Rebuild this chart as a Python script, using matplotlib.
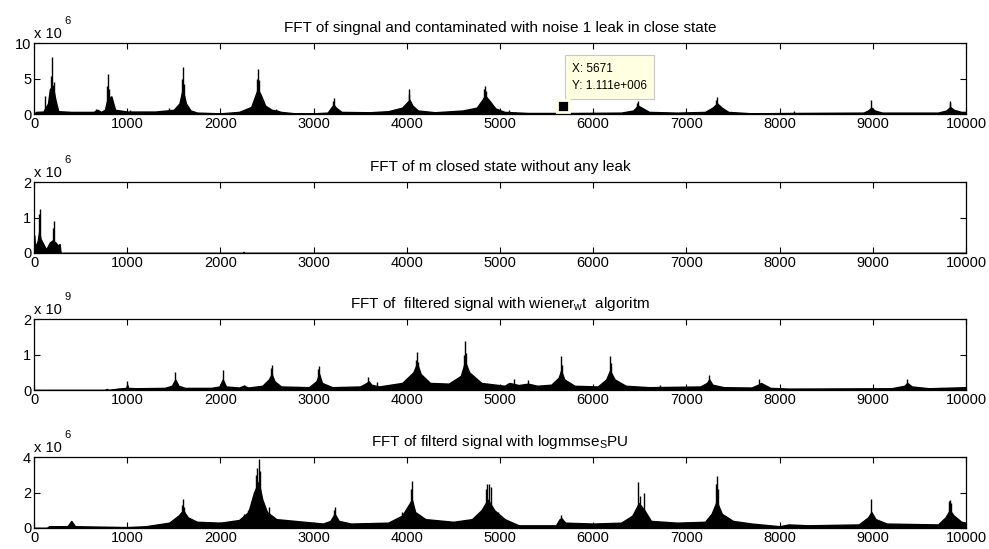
import matplotlib
matplotlib.use("Agg")
import matplotlib.pyplot as plt

plt.rcParams['font.family'] = ['Liberation Sans', 'DejaVu Sans']
plt.rcParams['mathtext.fontset'] = 'custom'
plt.rcParams['mathtext.rm'] = 'Liberation Sans'
plt.rcParams['mathtext.it'] = 'Liberation Sans'

# ---- panel 1 : noisy signal, 1 leak (units 1e6) ----
env1_f = [0, 20, 100, 150, 170, 200, 230, 260, 400, 640, 680, 720, 760, 790, 830, 870, 1000, 1300,
          1500, 1560, 1595, 1630, 1680, 1750, 2000, 2200, 2330, 2380, 2400, 2430, 2480, 2550, 2600,
          2650, 2800, 3000, 3150, 3195, 3215, 3240, 3300, 3600, 3800, 3950, 4000, 4030, 4060, 4120,
          4300, 4600, 4750, 4810, 4840, 4880, 4950, 5050, 5300, 5800, 6300, 6430, 6480, 6520, 6600,
          6900, 7200, 7280, 7330, 7380, 7450, 7700, 8100, 8900, 8950, 8985, 9020, 9100, 9700, 9790,
          9830, 9870, 9950, 10000]
env1_a = [0, 0.3, 0.35, 1.5, 3.5, 4.0, 2.0, 0.4, 0.3, 0.3, 0.6, 0.3, 0.6, 2.2, 2.5, 0.6, 0.35, 0.35,
          0.6, 1.5, 3.5, 1.5, 0.5, 0.2, 0.1, 0.3, 1.0, 2.8, 3.5, 2.8, 1.2, 0.6, 0.5,
          0.3, 0.1, 0.1, 0.2, 1.0, 1.3, 0.9, 0.3, 0.25, 0.4, 0.9, 1.6, 2.0, 1.2, 0.5,
          0.25, 0.5, 0.9, 2.0, 2.6, 2.0, 0.8, 0.3, 0.15, 0.15, 0.2, 0.5, 1.2, 0.9, 0.3,
          0.2, 0.3, 0.9, 1.5, 0.9, 0.3, 0.1, 0.15, 0.2, 0.5, 0.9, 0.5, 0.2, 0.2, 0.5,
          1.0, 0.6, 0.3, 0.3]
spk1_f = [118, 180, 196, 210, 660, 780, 790, 805, 1030, 1450, 1590, 1598, 1610, 2390, 2402, 2415,
          2600, 3205, 3214, 4020, 4029, 4830, 4839, 4855, 5100, 6475, 6486, 7322, 7332, 8150,
          8982, 9825, 9832]
spk1_a = [2.5, 5.4, 8.1, 4.5, 0.7, 4.0, 5.7, 3.5, 0.5, 0.8, 5.0, 6.7, 4.2, 5.0, 6.4, 4.8,
          0.7, 1.8, 2.3, 2.8, 3.5, 3.5, 4.0, 3.2, 0.6, 1.5, 1.9, 2.0, 2.4, 0.4,
          2.0, 1.6, 1.8]

# ---- panel 2 : closed state, no leak (units 1e6) ----
env2_f = [0, 5, 20, 40, 55, 70, 90, 130, 150, 170, 195, 230, 260, 275, 285, 2245, 2250, 2255, 10000]
env2_a = [0.5, 0.3, 0.2, 0.35, 0.6, 0.4, 0.3, 0.1, 0.2, 0.3, 0.35, 0.3, 0.2, 0.25, 0, 0, 0.03, 0, 0]
spk2_f = [0, 58, 63, 205, 215, 268]
spk2_a = [0.5, 1.1, 1.23, 0.7, 0.9, 0.25]

# ---- panel 3 : wiener filtered (units 1e9) ----
env3_f = [0, 760, 780, 800, 900, 990, 1000, 1010, 1100, 1400, 1480, 1515, 1550, 1620, 1900, 1990,
          2025, 2060, 2200, 2250, 2300, 2450, 2520, 2550, 2580, 2650, 2950, 3030, 3060, 3090, 3200,
          3500, 3570, 3590, 3620, 3700, 3950, 4070, 4110, 4150, 4250, 4450, 4580, 4625, 4670, 4800,
          5050, 5100, 5200, 5300, 5400, 5550, 5630, 5655, 5690, 5800, 6050, 6140, 6180, 6230, 6350,
          6600, 7150, 7220, 7245, 7280, 7400, 7700, 7770, 7800, 7900, 8100, 9200, 9340, 9370, 9420,
          9600, 10000]
env3_a = [0, 0, 0.03, 0, 0.04, 0.06, 0.15, 0.06, 0.05, 0.06, 0.12, 0.3, 0.12, 0.06, 0.06, 0.1,
          0.3, 0.1, 0.07, 0.12, 0.07, 0.12, 0.3, 0.45, 0.25, 0.1, 0.08, 0.25, 0.45, 0.2, 0.08,
          0.1, 0.2, 0.25, 0.15, 0.1, 0.2, 0.5, 0.75, 0.45, 0.2, 0.18, 0.4, 0.8, 0.5, 0.2,
          0.12, 0.2, 0.14, 0.18, 0.12, 0.15, 0.35, 0.55, 0.3, 0.12, 0.1, 0.3, 0.55, 0.3, 0.12,
          0.08, 0.1, 0.2, 0.3, 0.15, 0.08, 0.07, 0.15, 0.2, 0.06, 0.04, 0.05, 0.12, 0.2, 0.1,
          0.05, 0.08]
spk3_f = [1000, 1518, 2025, 2250, 2540, 2550, 3050, 3060, 3586, 3680, 4100, 4111, 4125, 4615, 4625,
          4640, 5150, 5300, 5654, 5665, 6179, 6190, 6720, 7243, 7779, 9368]
spk3_a = [0.26, 0.5, 0.56, 0.15, 0.62, 0.7, 0.6, 0.67, 0.38, 0.22, 0.85, 1.08, 0.8, 1.0, 1.39,
          1.05, 0.3, 0.28, 0.95, 0.7, 0.95, 0.75, 0.15, 0.43, 0.32, 0.31]

# ---- panel 4 : logmmse_SPU filtered (units 1e6) ----
env4_f = [0, 140, 160, 360, 400, 440, 1000, 1200, 1450, 1550, 1600, 1650, 1750, 2000, 2200, 2300,
          2360, 2410, 2450, 2500, 2600, 2800, 3100, 3180, 3225, 3270, 3400, 3800, 3950, 4020, 4055,
          4090, 4200, 4500, 4700, 4800, 4870, 4940, 5050, 5200, 5600, 5640, 5660, 5700, 6000, 6300,
          6420, 6490, 6550, 6620, 6900, 7200, 7270, 7325, 7380, 7500, 7700, 8000, 8100, 8300, 8850,
          8950, 8985, 9030, 9150, 9700, 9780, 9825, 9870, 9950, 10000]
env4_a = [0, 0, 0.1, 0.1, 0.4, 0.1, 0.05, 0.1, 0.3, 0.7, 1.0, 0.6, 0.35, 0.3, 0.45, 0.9,
          2.0, 2.6, 1.6, 0.9, 0.5, 0.4, 0.25, 0.4, 0.8, 0.4, 0.25, 0.3, 0.7, 1.3, 1.6,
          0.9, 0.5, 0.35, 0.5, 1.0, 1.6, 1.0, 0.5, 0.15, 0.15, 0.5, 0.55, 0.3, 0.25, 0.3,
          0.7, 1.4, 1.0, 0.4, 0.3, 0.35, 0.8, 1.5, 0.8, 0.4, 0.25, 0.1, 0.2, 0.15, 0.2,
          0.6, 0.9, 0.5, 0.25, 0.2, 0.6, 1.0, 0.7, 0.35, 0.3]
spk4_f = [1590, 1600, 1612, 2250, 2300, 2380, 2392, 2410, 2425, 2520, 3220, 3230, 3950, 4045, 4054,
          4845, 4860, 4885, 4900, 4980, 5654, 6486, 6500, 6540, 7318, 7325, 7340, 8982, 9818, 9825,
          9840]
spk4_a = [1.3, 1.66, 1.2, 0.8, 1.0, 3.0, 3.4, 3.9, 3.2, 1.2, 1.0, 1.2, 0.9, 2.2, 2.63,
          2.2, 2.5, 2.5, 2.3, 0.9, 0.75, 2.6, 1.8, 2.0, 2.5, 2.95, 2.2, 1.66, 1.5, 1.6,
          1.4]

titles = ["FFT of singnal and contaminated with noise 1 leak in close state",
          "FFT of m closed state without any leak",
          r"FFT of  filtered signal with wiener$_\mathrm{w}$t  algoritm",
          r"FFT of filterd signal with logmmse$_\mathrm{S}$PU"]
exponents = ["6", "6", "9", "6"]
ylims = [10, 2, 2, 4]
yticks = [[0, 5, 10], [0, 1, 2], [0, 1, 2], [0, 2, 4]]
xticks = list(range(0, 10001, 1000))

tip_x, tip_y = 5671, 1.111

panels = [(env1_f, env1_a, spk1_f, spk1_a), (env2_f, env2_a, spk2_f, spk2_a),
          (env3_f, env3_a, spk3_f, spk3_a), (env4_f, env4_a, spk4_f, spk4_a)]
bottoms = [0.7923, 0.5392, 0.2896, 0.0383]

fig = plt.figure(figsize=(9.89, 5.49), dpi=100)
for i, (ef, ea, sf, sa) in enumerate(panels):
    ax = fig.add_axes([0.0344, bottoms[i], 0.9423, 0.129])
    ax.fill_between(ef, 0, ea, color="black", lw=1.0)
    ax.vlines(sf, 0, sa, color="black", lw=1.0)
    ax.set_xlim(0, 10000)
    ax.set_ylim(0, ylims[i])
    ax.set_xticks(xticks)
    ax.set_yticks(yticks[i])
    ax.tick_params(direction="in", top=True, right=True, length=4, width=0.8,
                   labelsize=10.5, pad=2)
    for s in ax.spines.values():
        s.set_linewidth(0.9)
    ax.set_title(titles[i], fontsize=11, pad=8)
    ax.annotate("x 10", xy=(0, 1), xycoords="axes fraction", xytext=(0, 4),
                textcoords="offset points", fontsize=10.5, va="baseline", ha="left")
    ax.annotate(exponents[i], xy=(0, 1), xycoords="axes fraction", xytext=(22, 14),
                textcoords="offset points", fontsize=8, va="baseline", ha="left")
    if i == 0:
        ax.plot([tip_x], [tip_y], marker="s", ms=8, color="black",
                mec="#FFFFE1", mew=2, zorder=5)
        ax.text(5770, 5.2, "X: 5671\nY: 1.111e+006", fontsize=8.5, va="center", ha="left",
                linespacing=1.6,
                bbox=dict(boxstyle="square,pad=0.6", fc="#FFFFE1", ec="#C8C8C8", lw=0.8))

fig.savefig("out.png", dpi=100)
